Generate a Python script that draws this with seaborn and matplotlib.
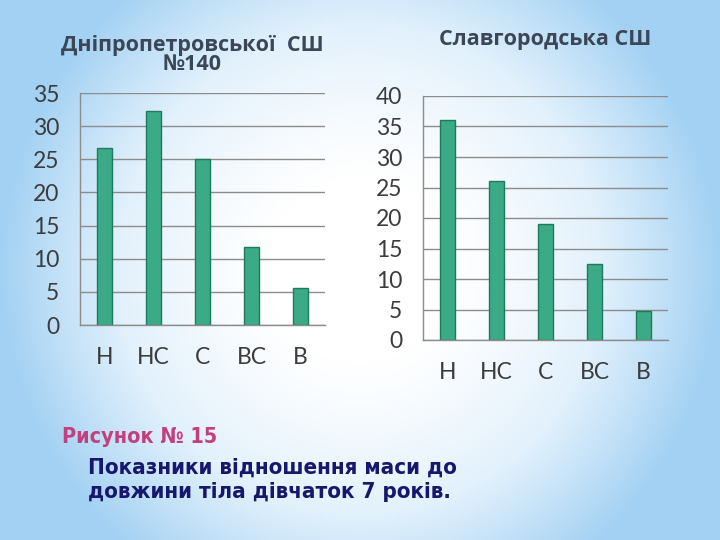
import numpy as np
import pandas as pd
import matplotlib
matplotlib.use("Agg")
import matplotlib.pyplot as plt
from matplotlib.colors import LinearSegmentedColormap
import seaborn as sns

categories = ["Н", "НС", "С", "ВС", "В"]
school1_values = [26.7, 32.3, 25.0, 11.7, 5.6]
school2_values = [36.0, 26.0, 19.0, 12.5, 4.8]
title1 = "Дніпропетровської  СШ\n№140"
title2 = "Славгородська СШ"
caption_head = "Рисунок № 15"
caption_body = "Показники відношення маси до\nдовжини тіла дівчаток 7 років."

sns.set_theme(style="white")
plt.rcParams["font.family"] = ["Lato", "DejaVu Sans"]

W, H = 720, 540
fig = plt.figure(figsize=(7.2, 5.4), dpi=100)

# background gradient (light blue edges, white centre)
bg = fig.add_axes([0, 0, 1, 1], zorder=-10)
xx = np.linspace(-1, 1, 360)
yy = np.linspace(-1, 1, 270)
X, Y = np.meshgrid(xx, yy)
d = np.sqrt((X / 1.0) ** 2 + (Y / 1.35) ** 2)
d = np.clip((d - 0.25) / 0.75, 0, 1) ** 1.2
cmap = LinearSegmentedColormap.from_list("bgc", ["#ffffff", "#e2f1fc", "#a3d1f3"])
bg.imshow(d, cmap=cmap, aspect="auto", extent=[0, 1, 0, 1], vmin=0, vmax=1)
bg.axis("off")

bar_color = "#3aaa87"
edge_color = "#1f7a5c"
grid_color = "#8c8c8c"
tick_color = "#3c3c3c"


def make_chart(rect, values, ymax):
    ax = fig.add_axes(rect)
    df = pd.DataFrame({"cat": categories, "val": values})
    sns.barplot(data=df, x="cat", y="val", color=bar_color, width=0.3,
                edgecolor=edge_color, linewidth=1.0, ax=ax, saturation=1)
    ax.set_facecolor("none")
    ax.set_ylim(0, ymax)
    ax.set_xlim(-0.5, len(categories) - 0.5)
    ax.set_yticks(np.arange(0, ymax + 1, 5))
    ax.yaxis.grid(True, color=grid_color, linewidth=1.0)
    ax.set_axisbelow(True)
    for s in ["top", "right"]:
        ax.spines[s].set_visible(False)
    for s in ["left", "bottom"]:
        ax.spines[s].set_color(grid_color)
        ax.spines[s].set_linewidth(1.0)
    ax.set_xlabel("")
    ax.set_ylabel("")
    ax.tick_params(axis="y", length=5, color=grid_color, labelsize=16.5,
                   labelcolor=tick_color, pad=10)
    ax.tick_params(axis="x", which="major", length=0, labelsize=16.5,
                   labelcolor=tick_color, pad=16)
    ax.set_xticks(np.arange(-0.5, len(categories), 1.0), minor=True)
    ax.tick_params(axis="x", which="minor", length=6, color=grid_color,
                   direction="out")
    return ax


ax1 = make_chart([80 / W, (H - 325) / H, 245 / W, (325 - 93) / H],
                 school1_values, 35)
ax2 = make_chart([423 / W, (H - 340) / H, 245 / W, (340 - 96) / H],
                 school2_values, 40)

title_kw = dict(ha="center", va="center", fontsize=15.5, fontweight="bold",
                color="#3b4657", family=["Open Sans", "DejaVu Sans"])
fig.text(192 / W, 1 - 55 / H, title1, linespacing=0.9, **title_kw)
fig.text(545 / W, 1 - 40 / H, title2, **title_kw)

fig.text(62 / W, 1 - 437 / H, caption_head, ha="left", va="center",
         fontsize=15.5, fontweight="bold", color="#c2407e",
         family=["DejaVu Sans"], fontstretch="condensed")
fig.text(88 / W, 1 - 480 / H, caption_body, ha="left", va="center",
         fontsize=16, fontweight="bold", color="#17176e",
         family=["DejaVu Sans"], fontstretch="condensed", linespacing=1.25)

fig.savefig("out.png", dpi=100)
